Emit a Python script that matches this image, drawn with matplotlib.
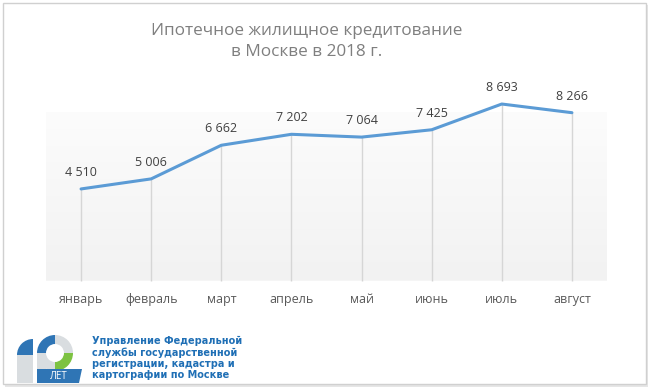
import matplotlib.pyplot as plt
import numpy as np
from matplotlib.colors import LinearSegmentedColormap
from matplotlib.patches import Rectangle, Wedge, Polygon

# данные
months = ["январь", "февраль", "март", "апрель", "май", "июнь", "июль", "август"]
values = [4510, 5006, 6662, 7202, 7064, 7425, 8693, 8266]
title = "Ипотечное жилищное кредитование\nв Москве в 2018 г."
org_text = ("Управление Федеральной\nслужбы государственной\n"
            "регистрации, кадастра и\nкартографии по Москве")

W, H = 650, 389
plt.rcParams["font.family"] = ["Open Sans", "DejaVu Sans"]

fig = plt.figure(figsize=(W / 100, H / 100), dpi=100)
fig.patch.set_facecolor("white")


def px(x0, y0, x1, y1):
    """пиксельные координаты (сверху вниз) -> доли фигуры"""
    return [x0 / W, 1 - y1 / H, (x1 - x0) / W, (y1 - y0) / H]


# фоновый слой для рамки и логотипа
bg = fig.add_axes([0, 0, 1, 1])
bg.set_xlim(0, W)
bg.set_ylim(H, 0)
bg.axis("off")
bg.add_patch(Rectangle((5, 5), 643, 382, facecolor="#e6e6e6", edgecolor="none"))
bg.add_patch(Rectangle((3, 3), 643, 381, facecolor="white", edgecolor="#d0d0d0", lw=1))

# область графика
ax = fig.add_axes(px(46, 112, 607, 280.5))
x = np.arange(len(months))
ax.set_xlim(-0.5, len(months) - 0.5)
ax.set_ylim(0, 8300)

grad = np.linspace(0, 1, 100).reshape(-1, 1)
cmap = LinearSegmentedColormap.from_list("g", ["#f2f2f2", "#fcfcfc"])
ax.imshow(grad, extent=(-0.5, len(months) - 0.5, 0, 8300), aspect="auto",
          cmap=cmap, origin="lower", zorder=0)

ax.vlines(x, 0, values, color="#d6d6d6", lw=1, zorder=1, clip_on=False)
ax.plot(x, values, color="#5b9bd5", lw=2.2, solid_capstyle="round",
        zorder=3, clip_on=False)
ax.axhline(0, color="#d0d0d0", lw=1, zorder=2)

for xi, v in zip(x, values):
    ax.annotate(f"{v:,}".replace(",", " "), (xi, v), xytext=(0, 12),
                textcoords="offset points", ha="center", va="center",
                fontsize=9, color="#404040", annotation_clip=False)

ax.set_xticks(x)
ax.set_xticklabels(months, fontsize=9, color="#595959")
ax.tick_params(axis="x", length=0, pad=9)
ax.set_yticks([])
for s in ax.spines.values():
    s.set_visible(False)

fig.text(307 / W, 1 - 41.5 / H, title, ha="center", va="center",
         fontsize=12.3, color="#7f7f7f", linespacing=1.4)

# логотип
blue, grey, green = "#2f75b5", "#d9dde0", "#7dc242"
bg.add_patch(Rectangle((17, 355), 16, 28, facecolor=grey, edgecolor="none"))
bg.add_patch(Wedge((33, 355), 16, 180, 270, facecolor=blue, edgecolor="none"))
cx, cy = 55, 353
bg.add_patch(Wedge((cx, cy), 18, 180, 270, width=9, facecolor=blue))
bg.add_patch(Wedge((cx, cy), 18, 270, 360, width=9, facecolor=grey))
bg.add_patch(Wedge((cx, cy), 18, 0, 90, width=9, facecolor=green))
bg.add_patch(Wedge((cx, cy), 18, 90, 180, width=9, facecolor=grey))
bg.add_patch(Rectangle((37, 353), 9, 17, facecolor=grey, edgecolor="none"))
bg.add_patch(Polygon([(37, 369), (82, 369), (79, 383), (37, 383)],
                     facecolor=blue, edgecolor="none"))
bg.text(59, 376.5, "ЛЕТ", color="white", fontsize=7, ha="center", va="center")
bg.text(92, 358, org_text, color="#1f6fb5", fontsize=7, fontweight="bold",
        family=["Liberation Sans Narrow", "DejaVu Sans"],
        ha="left", va="center", linespacing=1.15)

fig.savefig("out.png", dpi=100)
